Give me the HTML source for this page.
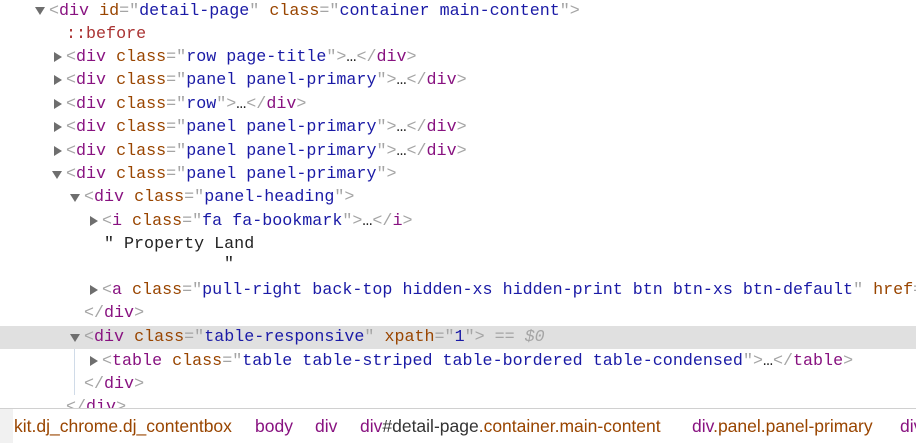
<!DOCTYPE html>
<html><head><meta charset="utf-8"><style>
html,body{margin:0;padding:0;width:916px;height:442px;overflow:hidden;background:#fff;}
.l{position:absolute;left:0;height:23px;line-height:23px;white-space:pre;font-family:"Liberation Mono",monospace;font-size:16.7px;color:#222;}
.t{color:#881280}.p{color:#a5a5a5}.a{color:#994500}.v{color:#1a1aa6}.ps{color:#a33}
.ar{position:absolute;width:0;height:0;}
.dn{border-left:5px solid transparent;border-right:5px solid transparent;border-top:8px solid #6e6e6e;}
.rt{border-top:5px solid transparent;border-bottom:5px solid transparent;border-left:8px solid #6e6e6e;}
#hl{position:absolute;left:0;top:326px;width:916px;height:23px;background:#e0e0e0;}
#vl{position:absolute;left:74px;top:349px;width:1px;height:46px;background:#d0dbe8;}
#bar{position:absolute;left:0;top:408px;width:916px;height:34px;background:#fff;border-top:1px solid #d0d0d0;font-family:"Liberation Sans",sans-serif;font-size:17.5px;line-height:34px;}
#bar > span{position:absolute;top:0;white-space:pre;}
.b1{color:#994500}.b2{color:#881280}.b3{color:#333}
</style></head><body>
<div id="hl"></div><div id="vl"></div>
<div class="ar dn" style="left:35px;top:7px"></div>
<div class="l" style="left:49px;top:0px"><span class="p">&lt;</span><span class="t">div</span> <span class="a">id</span><span class="p">="</span><span class="v">detail-page</span><span class="p">"</span> <span class="a">class</span><span class="p">="</span><span class="v">container main-content</span><span class="p">"&gt;</span></div>
<div class="l ps" style="left:66px;top:23px">::before</div>
<div class="ar rt" style="left:54px;top:52px"></div>
<div class="l" style="left:66px;top:46px"><span class="p">&lt;</span><span class="t">div</span> <span class="a">class</span><span class="p">="</span><span class="v">row page-title</span><span class="p">"&gt;</span>…<span class="p">&lt;/</span><span class="t">div</span><span class="p">&gt;</span></div>
<div class="ar rt" style="left:54px;top:75px"></div>
<div class="l" style="left:66px;top:69px"><span class="p">&lt;</span><span class="t">div</span> <span class="a">class</span><span class="p">="</span><span class="v">panel panel-primary</span><span class="p">"&gt;</span>…<span class="p">&lt;/</span><span class="t">div</span><span class="p">&gt;</span></div>
<div class="ar rt" style="left:54px;top:99px"></div>
<div class="l" style="left:66px;top:93px"><span class="p">&lt;</span><span class="t">div</span> <span class="a">class</span><span class="p">="</span><span class="v">row</span><span class="p">"&gt;</span>…<span class="p">&lt;/</span><span class="t">div</span><span class="p">&gt;</span></div>
<div class="ar rt" style="left:54px;top:122px"></div>
<div class="l" style="left:66px;top:116px"><span class="p">&lt;</span><span class="t">div</span> <span class="a">class</span><span class="p">="</span><span class="v">panel panel-primary</span><span class="p">"&gt;</span>…<span class="p">&lt;/</span><span class="t">div</span><span class="p">&gt;</span></div>
<div class="ar rt" style="left:54px;top:146px"></div>
<div class="l" style="left:66px;top:140px"><span class="p">&lt;</span><span class="t">div</span> <span class="a">class</span><span class="p">="</span><span class="v">panel panel-primary</span><span class="p">"&gt;</span>…<span class="p">&lt;/</span><span class="t">div</span><span class="p">&gt;</span></div>
<div class="ar dn" style="left:52px;top:171px"></div>
<div class="l" style="left:66px;top:163px"><span class="p">&lt;</span><span class="t">div</span> <span class="a">class</span><span class="p">="</span><span class="v">panel panel-primary</span><span class="p">"&gt;</span></div>
<div class="ar dn" style="left:70px;top:194px"></div>
<div class="l" style="left:84px;top:186px"><span class="p">&lt;</span><span class="t">div</span> <span class="a">class</span><span class="p">="</span><span class="v">panel-heading</span><span class="p">"&gt;</span></div>
<div class="ar rt" style="left:90px;top:216px"></div>
<div class="l" style="left:102px;top:210px"><span class="p">&lt;</span><span class="t">i</span> <span class="a">class</span><span class="p">="</span><span class="v">fa fa-bookmark</span><span class="p">"&gt;</span>…<span class="p">&lt;/</span><span class="t">i</span><span class="p">&gt;</span></div>
<div class="l" style="left:104px;top:233px">" Property Land</div>
<div class="l" style="left:224px;top:253px">"</div>
<div class="ar rt" style="left:90px;top:285px"></div>
<div class="l" style="left:102px;top:279px"><span class="p">&lt;</span><span class="t">a</span> <span class="a">class</span><span class="p">="</span><span class="v">pull-right back-top hidden-xs hidden-print btn btn-xs btn-default</span><span class="p">"</span> <span class="a">href</span><span class="p">=</span></div>
<div class="l" style="left:84px;top:302px"><span class="p">&lt;/</span><span class="t">div</span><span class="p">&gt;</span></div>
<div class="ar dn" style="left:70px;top:334px"></div>
<div class="l" style="left:84px;top:326px"><span class="p">&lt;</span><span class="t">div</span> <span class="a">class</span><span class="p">="</span><span class="v">table-responsive</span><span class="p">"</span> <span class="a">xpath</span><span class="p">="</span><span class="v">1</span><span class="p">"&gt;</span><span class="p"> == <i>$0</i></span></div>
<div class="ar rt" style="left:90px;top:356px"></div>
<div class="l" style="left:102px;top:350px"><span class="p">&lt;</span><span class="t">table</span> <span class="a">class</span><span class="p">="</span><span class="v">table table-striped table-bordered table-condensed</span><span class="p">"&gt;</span>…<span class="p">&lt;/</span><span class="t">table</span><span class="p">&gt;</span></div>
<div class="l" style="left:84px;top:373px"><span class="p">&lt;/</span><span class="t">div</span><span class="p">&gt;</span></div>
<div class="l" style="left:66px;top:396px"><span class="p">&lt;/</span><span class="t">div</span><span class="p">&gt;</span></div>
<div id="bar">
<div style="position:absolute;left:0;top:0;width:13px;height:34px;background:#f1f1f1"></div>
<span class="b1" style="left:14px">kit.dj_chrome.dj_contentbox</span>
<span class="b2" style="left:255px">body</span>
<span class="b2" style="left:315px">div</span>
<span style="left:360px"><span class="b2">div</span><span class="b3">#detail-page</span><span class="b1">.container.main-content</span></span>
<span style="left:692px"><span class="b2">div</span><span class="b1">.panel.panel-primary</span></span>
<span class="b2" style="left:900px">div</span>
</div>
</body></html>
